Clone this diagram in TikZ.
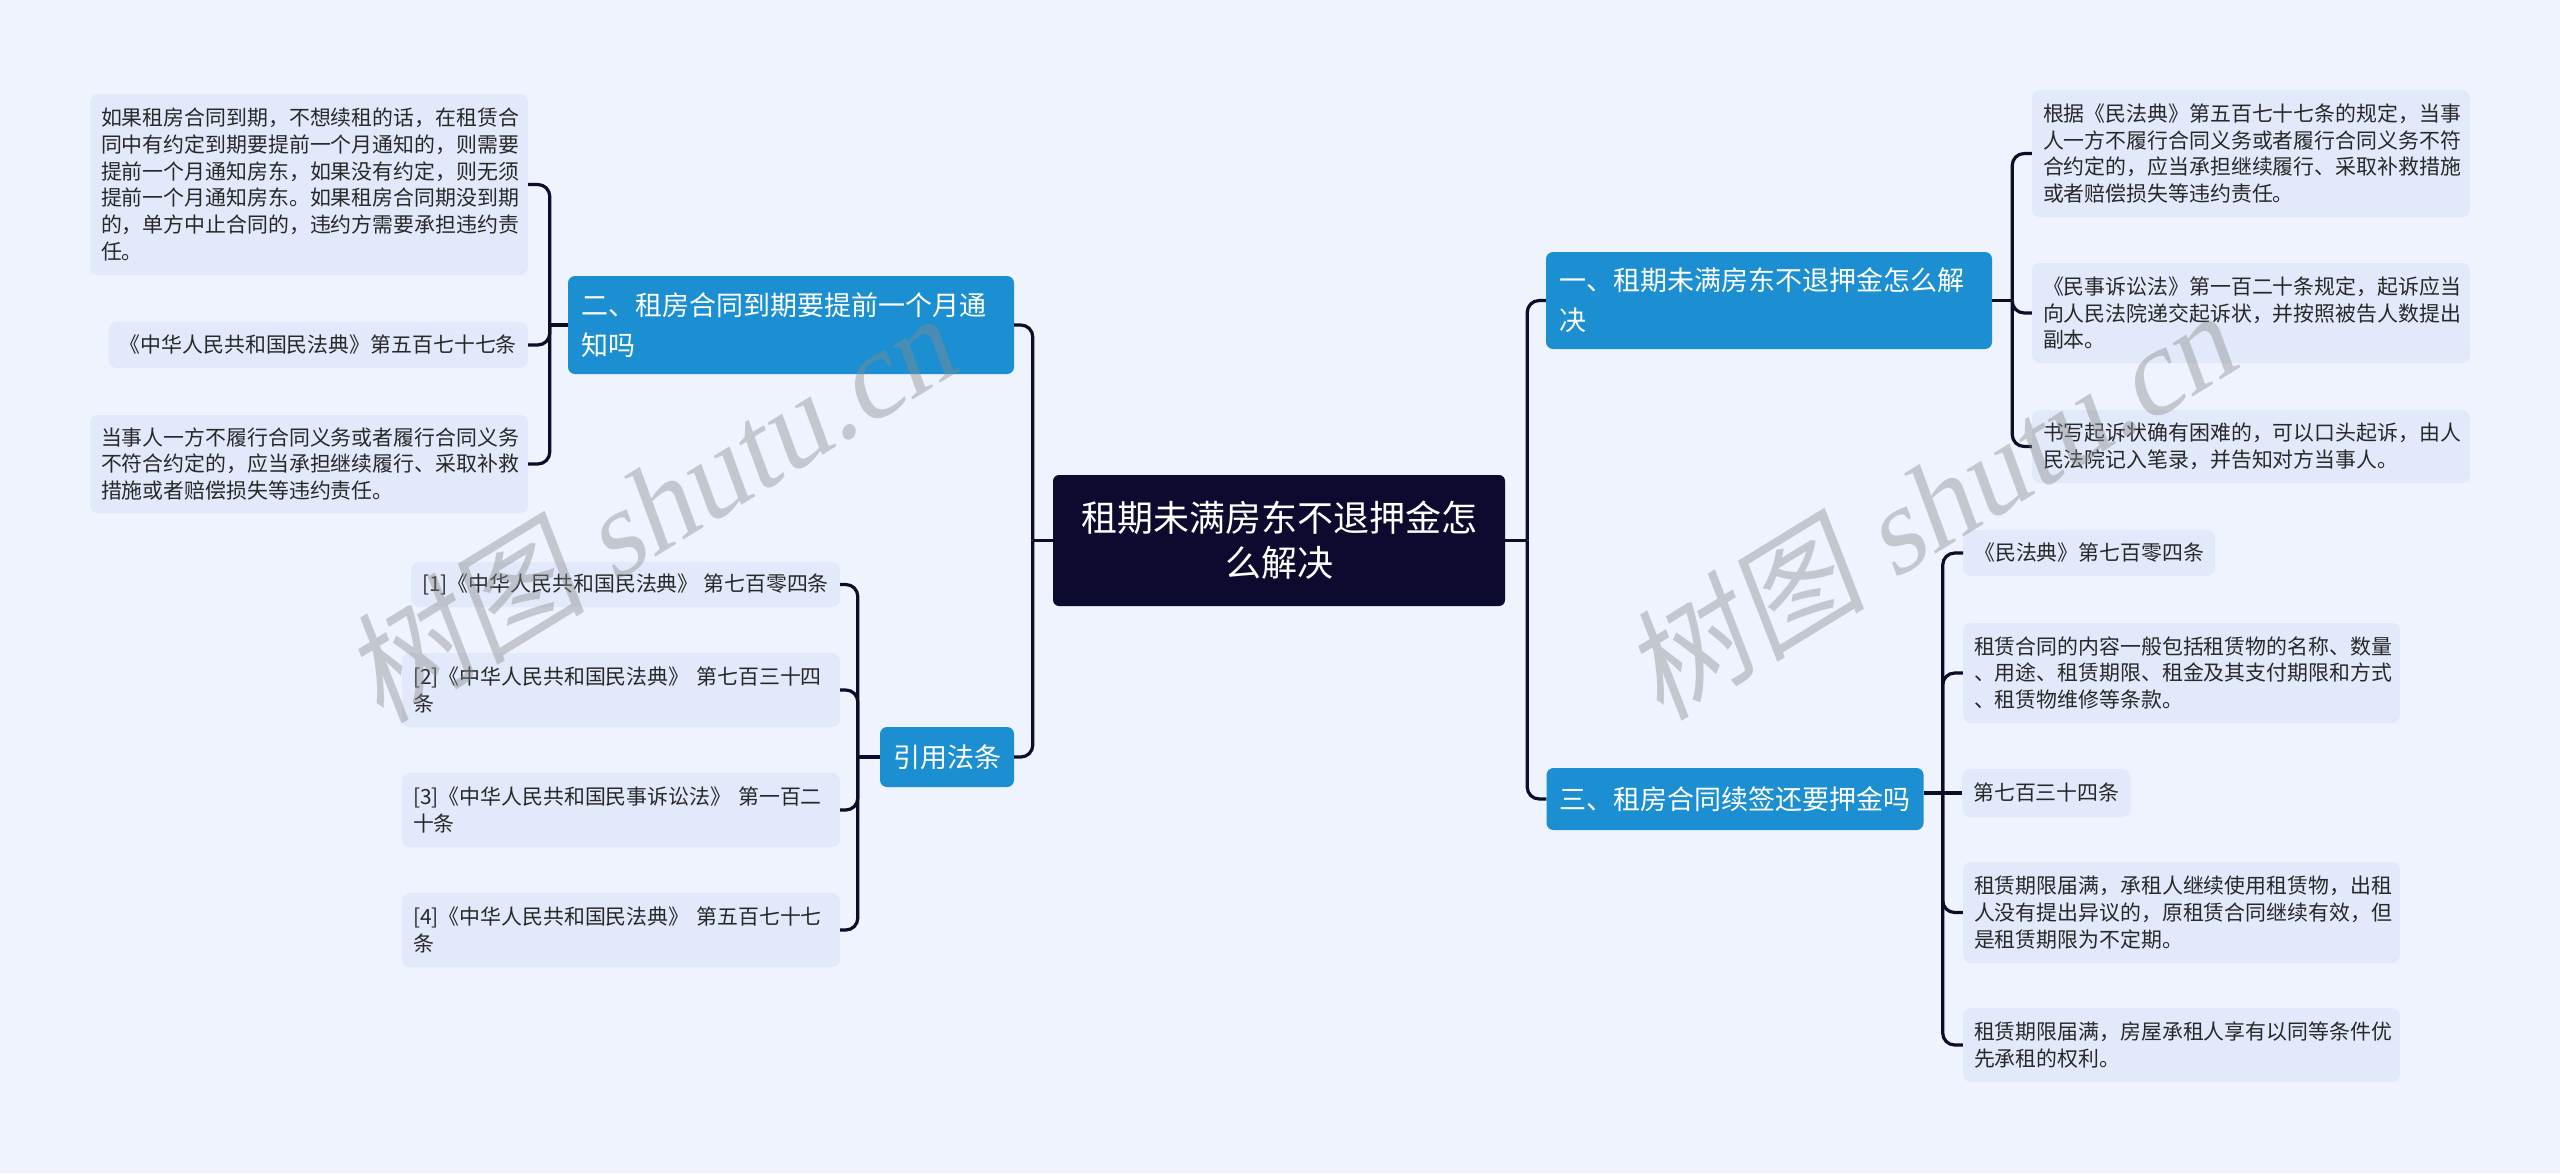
\documentclass[tikz,border=0pt]{standalone}
\usepackage{fontspec}
\setmainfont{Noto Sans CJK SC}
\newfontfamily\wmcjk[FakeSlant=0.18]{Noto Sans CJK SC}
\newfontfamily\wmlat[FakeSlant=0.2]{Liberation Serif}
\usetikzlibrary{calc}
\definecolor{bgc}{RGB}{238,243,253}
\definecolor{leafc}{RGB}{225,233,250}
\definecolor{brc}{RGB}{27,143,209}
\definecolor{ctc}{RGB}{12,10,46}
\definecolor{linec}{RGB}{14,12,40}
\definecolor{txtc}{RGB}{40,40,40}
\newcommand\lffnt{\fontsize{20.9}{26.7}\selectfont}
\newcommand\brfnt{\fontsize{27}{40}\selectfont}
\newcommand\ctfnt{\fontsize{36}{45}\selectfont}
\tikzset{
  ctr/.style={fill=ctc, text=white, rounded corners=6pt, minimum width=452pt, minimum height=131pt, align=center, font=\ctfnt, inner sep=0pt},
  br/.style={fill=brc, text=white, rounded corners=7pt, font=\brfnt, align=left, inner xsep=13pt, inner ysep=0pt},
  lf/.style={fill=leafc, text=txtc, rounded corners=8pt, font=\lffnt, align=left, inner xsep=11pt, inner ysep=0pt},
  conn/.style={draw=linec, line width=3.2pt, rounded corners=12pt},
  wm/.style={text=black!45, opacity=0.42, inner sep=0pt}
}
\begin{document}
\begin{tikzpicture}[x=1pt,y=-1pt]
\fill[bgc] (0,0) rectangle (2560,1173);
\useasboundingbox (0,0) rectangle (2560,1173);

% center
\node[ctr] (c) at (1279,540.5) {租期未满房东不退押金怎\\么解决};

% branches
\node[br, text width=420pt, minimum height=97pt] (b1) at (1769,300.5) {一、租期未满房东不退押金怎么解\\决};
\node[br, text width=420pt, minimum height=98pt] (b2) at (791,325) {二、租房合同到期要提前一个月通\\知吗};
\node[br, text width=108pt, minimum height=60pt, align=center] (b4) at (947,757) {引用法条};
\node[br, text width=351pt, minimum height=62pt] (b3) at (1735,799) {三、租房合同续签还要押金吗};

% right leaves of branch 1
\node[lf, text width=416pt, minimum height=127pt] (r1a) at (2251,153.5) {根据《民法典》第五百七十七条的规定，当事\\人一方不履行合同义务或者履行合同义务不符\\合约定的，应当承担继续履行、采取补救措施\\或者赔偿损失等违约责任。};
\node[lf, text width=416pt, minimum height=100pt] (r1b) at (2251,313) {《民事诉讼法》第一百二十条规定，起诉应当\\向人民法院递交起诉状，并按照被告人数提出\\副本。};
\node[lf, text width=416pt, minimum height=73pt] (r1c) at (2251,446.5) {书写起诉状确有困难的，可以口头起诉，由人\\民法院记入笔录，并告知对方当事人。};

% right leaves of branch 3
\node[lf, minimum height=46pt, anchor=west] (r3a) at (1963,553) {《民法典》第七百零四条};
\node[lf, text width=415pt, minimum height=100pt] (r3b) at (2181.5,673) {租赁合同的内容一般包括租赁物的名称、数量\\、用途、租赁期限、租金及其支付期限和方式\\、租赁物维修等条款。};
\node[lf, minimum height=48pt, anchor=west] (r3c) at (1962,793) {第七百三十四条};
\node[lf, text width=415pt, minimum height=101pt] (r3d) at (2181.5,912.5) {租赁期限届满，承租人继续使用租赁物，出租\\人没有提出异议的，原租赁合同继续有效，但\\是租赁期限为不定期。};
\node[lf, text width=415pt, minimum height=74pt] (r3e) at (2181.5,1045) {租赁期限届满，房屋承租人享有以同等条件优\\先承租的权利。};

% left leaves of branch 2
\node[lf, text width=416pt, minimum height=181pt] (l2a) at (309,184.5) {如果租房合同到期，不想续租的话，在租赁合\\同中有约定到期要提前一个月通知的，则需要\\提前一个月通知房东，如果没有约定，则无须\\提前一个月通知房东。如果租房合同期没到期\\的，单方中止合同的，违约方需要承担违约责\\任。};
\node[lf, minimum height=46pt, anchor=east] (l2b) at (528,345) {《中华人民共和国民法典》第五百七十七条};
\node[lf, text width=416pt, minimum height=98pt] (l2c) at (309,464) {当事人一方不履行合同义务或者履行合同义务\\不符合约定的，应当承担继续履行、采取补救\\措施或者赔偿损失等违约责任。};

% left leaves of 引用法条
\node[lf, minimum height=45pt, anchor=east] (l4a) at (840,584.5) {[1]《中华人民共和国民法典》~第七百零四条};
\node[lf, text width=416pt, minimum height=74pt] (l4b) at (621,690) {[2]《中华人民共和国民法典》~第七百三十四\\条};
\node[lf, text width=416pt, minimum height=74pt] (l4c) at (621,810) {[3]《中华人民共和国民事诉讼法》~第一百二\\十条};
\node[lf, text width=416pt, minimum height=74pt] (l4d) at (621,930) {[4]《中华人民共和国民法典》~第五百七十七\\条};

% trunk coordinates
\coordinate (cr) at ($(c.east)+(22,0)$);
\coordinate (cl) at ($(c.west)+(-20,0)$);
\coordinate (t1) at ($(b1.east)+(20,0)$);
\coordinate (t2) at ($(b2.west)+(-18,0)$);
\coordinate (t4) at ($(b4.west)+(-22,0)$);
\coordinate (t3) at ($(b3.east |- r3c.west)+(19,0)$);

% main connectors
\draw[conn] (c.east) -- (cr);
\draw[conn] (cr) |- (b1.west);
\draw[conn] (cr) |- (b3.west);
\draw[conn] (c.west) -- (cl);
\draw[conn] (cl) |- (b2.east);
\draw[conn] (cl) |- (b4.east);

% branch 1
\draw[conn] (b1.east) -- (t1);
\draw[conn] (t1) |- (r1a.west);
\draw[conn] (t1) |- (r1b.west);
\draw[conn] (t1) |- (r1c.west);

% branch 3
\draw[conn] (b3.east |- r3c.west) -- (r3c.west);
\draw[conn] (t3) |- (r3a.west);
\draw[conn] (t3) |- (r3b.west);
\draw[conn] (t3) |- (r3d.west);
\draw[conn] (t3) |- (r3e.west);

% branch 2
\draw[conn] (b2.west) -- (t2);
\draw[conn] (t2) |- (l2a.east);
\draw[conn] (t2) |- (l2b.east);
\draw[conn] (t2) |- (l2c.east);

% 引用法条
\draw[conn] (b4.west) -- (t4);
\draw[conn] (t4) |- (l4a.east);
\draw[conn] (t4) |- (l4b.east);
\draw[conn] (t4) |- (l4c.east);
\draw[conn] (t4) |- (l4d.east);

% watermarks
\node[wm, rotate=31.5] (wm1) at (648,508) {\fontsize{122}{126}\selectfont{\wmcjk 树图}~{\wmlat shutu.cn}};
\node[wm, rotate=31.5] (wm2) at (1928,505) {\fontsize{122}{126}\selectfont{\wmcjk 树图}~{\wmlat shutu.cn}};
\end{tikzpicture}
\end{document}
